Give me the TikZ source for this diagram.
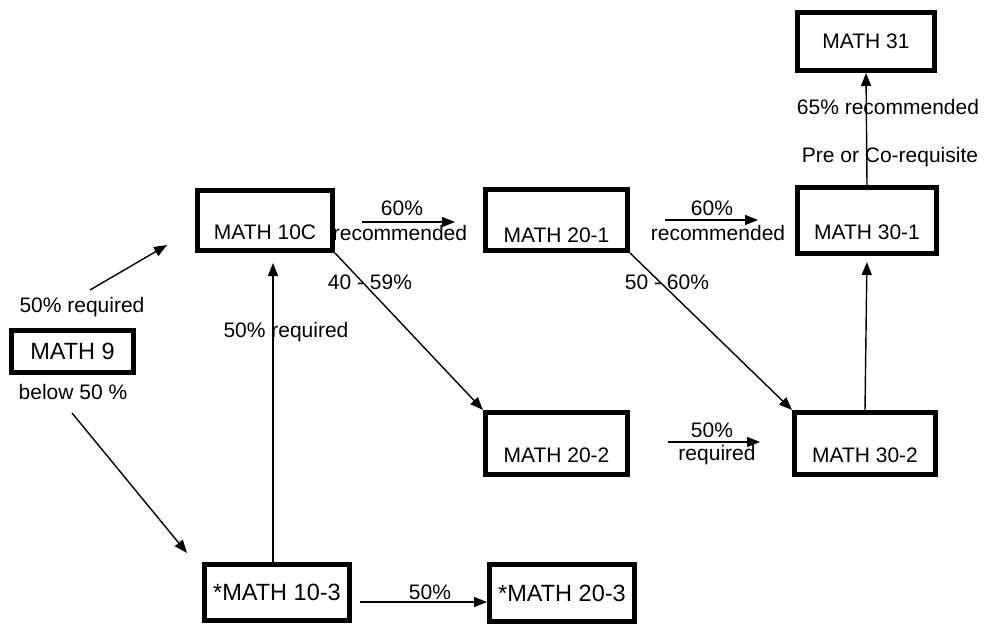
\documentclass[tikz,border=0pt]{standalone}
\usepackage{fontspec}
\setmainfont{Liberation Sans}
\usetikzlibrary{arrows.meta}
\begin{document}
\begin{tikzpicture}[x=1pt, y=-1pt,
  every node/.style={font=\fontsize{21}{25}\selectfont, inner sep=2pt},
  course/.style={shape=rectangle, draw=black, line width=5pt},
  bigtext/.style={font=\fontsize{23.5}{28}\selectfont},
  lowered/.style={text height=#1, text depth=0pt},
  arr/.style={-{Triangle[length=13pt,width=10pt]}, line width=1.4pt, draw=black}]
\useasboundingbox (0,0) rectangle (987,626);
% course boxes
\node[course, minimum width=137pt, minimum height=58pt] (m31) at (866,41.5) {MATH 31};
\node[course, minimum width=135pt, minimum height=60pt, lowered=38pt] (m10c) at (265,220.5) {MATH 10C};
\node[course, minimum width=142pt, minimum height=61pt, lowered=44pt] (m201) at (556.5,220) {MATH 20-1};
\node[course, minimum width=139pt, minimum height=66pt, lowered=38pt] (m301) at (867,220.5) {MATH 30-1};
\node[course, bigtext, minimum width=122pt, minimum height=42pt] (m9) at (72.5,351.5) {MATH 9};
\node[course, minimum width=142pt, minimum height=62pt, lowered=38pt] (m202) at (556.5,443.5) {MATH 20-2};
\node[course, minimum width=141pt, minimum height=62pt, lowered=38pt] (m302) at (865,443.5) {MATH 30-2};
\node[course, bigtext, minimum width=145pt, minimum height=56pt] (m103) at (277,592.5) {*MATH 10-3};
\node[course, bigtext, minimum width=145pt, minimum height=57pt] (m203) at (562,593) {*MATH 20-3};
% free arrow ends
\coordinate (a9s) at (90,290);
\coordinate (a9e) at (167,245);
\coordinate (b9s) at (72,413);
\coordinate (b9e) at (187,553);
\coordinate (t10c) at (273,263);
\coordinate (r1s) at (362,222);
\coordinate (r1e) at (455,222);
\coordinate (r2s) at (665,220);
\coordinate (r2e) at (758,220);
\coordinate (q1s) at (668,442);
\coordinate (q1e) at (760,442);
\coordinate (p1s) at (360,602);
% labels
\node (l9up) at (82,307) {50\% required};
\node (l9dn) at (73,392) {below 50 \%};
\node (l103) at (286,332) {50\% required};
\node (l10a) at (402,208) {60\%};
\node (l10b) at (400,233) {recommended};
\node (l10c) at (370,282) {40 - 59\%};
\node (l20a) at (712,208) {60\%};
\node (l20b) at (718,233) {recommended};
\node (l20c) at (667,282) {50 - 60\%};
\node (l30a) at (888,107) {65\% recommended};
\node (l30b) at (890,157) {Pre or Co-requisite};
\node (l22a) at (712,430) {50\%};
\node (l22b) at (717,455) {required};
\node (l13) at (430,592) {50\%};
% connectors
\draw [arr] (a9s) -- (a9e);
\draw [arr] (b9s) -- (b9e);
\draw [arr] (m103.north -| t10c) -- (t10c);
\draw [arr] (m10c.south east) -- (m202.north west);
\draw [arr] (m201.south east) -- (m302.north west);
\draw [arr] (r1s) -- (r1e);
\draw [arr] (r2s) -- (r2e);
\draw [arr] (q1s) -- (q1e);
\draw [arr] (p1s) -- (p1s -| m203.west);
\draw [arr, shorten >=6pt] (m302.north) -- (m301.south);
\draw [arr] (m301.north) -- (m31.south);
\end{tikzpicture}
\end{document}
